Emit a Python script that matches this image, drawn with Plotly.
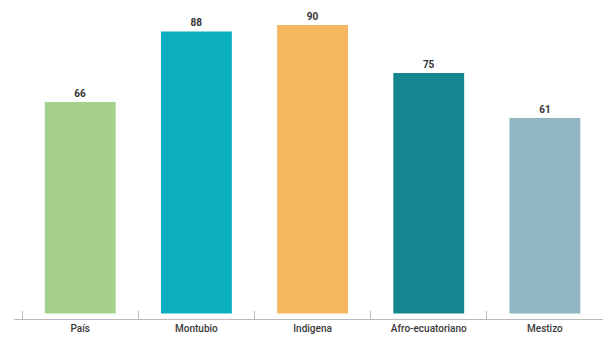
import plotly.graph_objects as go

categories = ["País", "Montubio", "Indigena", "Afro-ecuatoriano", "Mestizo"]
values = [66, 88, 90, 75, 61]
colors = ["#a5d08c", "#0aaebf", "#f5b861", "#14868f", "#8fb6c1"]

fig = go.Figure(go.Bar(
    x=categories,
    y=values,
    marker=dict(color=colors, line=dict(width=0)),
    text=[str(v) for v in values],
    textposition="outside",
    textfont=dict(family="Roboto", size=10, color="#333333", weight="bold"),
    cliponaxis=False,
    width=0.61,
))

fig.update_layout(
    width=603, height=337,
    margin=dict(l=14, r=0, t=9, b=18),
    paper_bgcolor="white", plot_bgcolor="white",
    showlegend=False,
    uniformtext=dict(minsize=10, mode="show"),
    xaxis=dict(
        range=[-0.57, 4.5],
        showline=True, linecolor="#bbbbbb", linewidth=1,
        ticks="inside", tickson="boundaries", ticklen=8,
        tickcolor="#bbbbbb",
        showgrid=False,
        tickfont=dict(family="Roboto", size=10, color="#3a3a3a", weight=500),
    ),
    yaxis=dict(range=[-1.75, 95], visible=False, showgrid=False, zeroline=False),
)

fig.write_html("out.html")
